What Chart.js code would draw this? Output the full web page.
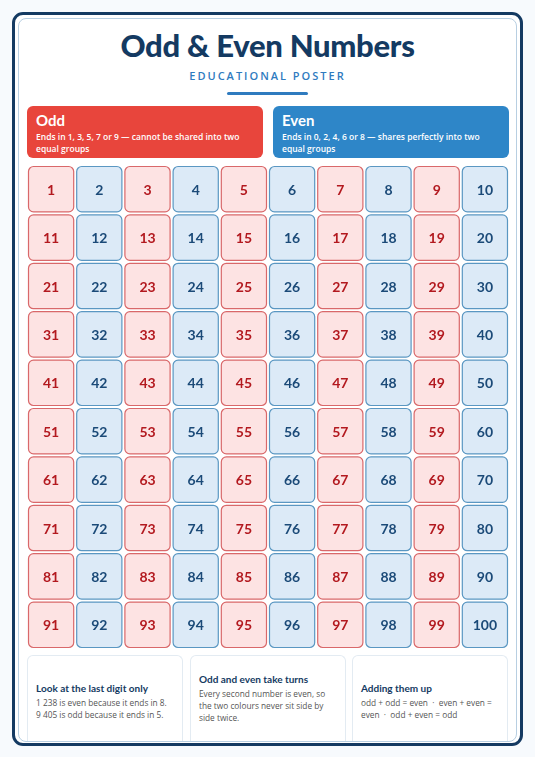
<!DOCTYPE html>
<html><head><meta charset="utf-8">
<script src="https://cdn.jsdelivr.net/npm/chart.js@4.4.1/dist/chart.umd.min.js"></script>
<style>
body{margin:0;width:535px;height:757px;background:#f7fafd;font-family:"Nunito","Open Sans",sans-serif;position:relative;overflow:hidden}
.frame{position:absolute;left:12px;top:12px;width:505px;height:728px;border:3px solid #143a62;border-radius:11px;background:#fff}
.inner{position:absolute;left:18px;top:18px;width:497px;height:722px;border:1.5px solid #b8cfe2;border-radius:8px}
h1{position:absolute;left:0;width:535px;top:26px;margin:0;text-align:center;font:900 31px "Lato",sans-serif;color:#143a62;letter-spacing:-0.3px}
.sub{position:absolute;left:0;width:535px;top:68px;text-align:center;font:600 11px "Open Sans",sans-serif;letter-spacing:2px;color:#2f7bbf}
.bar{position:absolute;left:227px;top:92px;width:81px;height:3px;background:#2f7bbf;border-radius:2px}
.key{position:absolute;top:106px;height:52px;width:236px;border-radius:6px;color:#fff;box-sizing:border-box;padding:5px 9px}
.key b{display:block;font:bold 15px "Lato",sans-serif;margin-bottom:2px}
.key span{display:block;font:600 8.5px/12px "Open Sans",sans-serif}
#wrap{position:absolute;left:27px;top:165px;width:482px;height:484px}
.card{position:absolute;top:655px;height:86px;width:156px;border:1px solid #e3ebf2;border-bottom:none;border-radius:6px 6px 0 0;box-sizing:border-box;padding:0 8px;display:flex;flex-direction:column;justify-content:center}
.card b{font:bold 10px "Lato",sans-serif;color:#143a62;margin-bottom:3px}
.card span{font:8.3px/12px "Open Sans",sans-serif;color:#555}
</style></head><body>
<div class="frame"></div><div class="inner"></div>
<h1>Odd &amp; Even Numbers</h1>
<div class="sub">EDUCATIONAL POSTER</div>
<div class="bar"></div>
<div class="key" style="left:27px;background:#e8453c"><b>Odd</b><span>Ends in 1, 3, 5, 7 or 9 — cannot be shared into two equal groups</span></div>
<div class="key" style="left:273px;background:#2e86c8"><b>Even</b><span>Ends in 0, 2, 4, 6 or 8 — shares perfectly into two equal groups</span></div>
<div id="wrap"><canvas id="c"></canvas></div>
<div class="card" style="left:27px;padding-top:6px"><b>Look at the last digit only</b><span>1 238 is even because it ends in 8.<br>9 405 is odd because it ends in 5.</span></div>
<div class="card" style="left:190px"><b>Odd and even take turns</b><span>Every second number is even, so the two colours never sit side by side twice.</span></div>
<div class="card" style="left:352px;padding-top:6px"><b>Adding them up</b><span>odd + odd = even &nbsp;·&nbsp; even + even = even &nbsp;·&nbsp; odd + even = odd</span></div>
<script>
// Grid data: 10 columns x 10 rows, numbers 1..100
const columns = [0,1,2,3,4,5,6,7,8,9];
const rows = [0,1,2,3,4,5,6,7,8,9];
const numbers = Array.from({length:100}, (_, i) => i + 1);

const oddStyle = {fill:'#fde3e3', stroke:'#d9686a', text:'#b3191f'};
const evenStyle = {fill:'#dceaf7', stroke:'#5a97c2', text:'#1b4a78'};

const points = numbers.map((n, i) => ({x: columns[i % 10], y: rows[Math.floor(i / 10)], n}));

function roundRect(ctx, x, y, w, h, r) {
    ctx.beginPath();
    ctx.moveTo(x + r, y);
    ctx.arcTo(x + w, y, x + w, y + h, r);
    ctx.arcTo(x + w, y + h, x, y + h, r);
    ctx.arcTo(x, y + h, x, y, r);
    ctx.arcTo(x, y, x + w, y, r);
    ctx.closePath();
}

const cellPlugin = {
    id: 'cells',
    afterDatasetsDraw(chart) {
        const ctx = chart.ctx, xs = chart.scales.x, ys = chart.scales.y;
        const cw = Math.abs(xs.getPixelForValue(1) - xs.getPixelForValue(0));
        const ch = Math.abs(ys.getPixelForValue(1) - ys.getPixelForValue(0));
        const gap = 3;
        ctx.save();
        points.forEach(p => {
            const st = p.n % 2 ? oddStyle : evenStyle;
            const cx = xs.getPixelForValue(p.x), cy = ys.getPixelForValue(p.y);
            roundRect(ctx, cx - cw / 2 + gap / 2, cy - ch / 2 + gap / 2, cw - gap, ch - gap, 5);
            ctx.fillStyle = st.fill; ctx.fill();
            ctx.lineWidth = 1.2; ctx.strokeStyle = st.stroke; ctx.stroke();
            ctx.fillStyle = st.text;
            ctx.font = 'bold 14px Lato, sans-serif';
            ctx.textAlign = 'center'; ctx.textBaseline = 'middle';
            ctx.fillText(String(p.n), cx, cy + 1);
        });
        ctx.restore();
    }
};

new Chart(document.getElementById('c'), {
    type: 'scatter',
    data: {datasets: [{data: points, pointRadius: 0}]},
    options: {
        responsive: true, maintainAspectRatio: false, animation: false,
        layout: {padding: 0},
        plugins: {legend: {display: false}, tooltip: {enabled: false}},
        scales: {
            x: {type: 'linear', min: -0.5, max: 9.5, display: false},
            y: {type: 'linear', min: -0.5, max: 9.5, reverse: true, display: false}
        }
    },
    plugins: [cellPlugin]
});
</script>
</body></html>
